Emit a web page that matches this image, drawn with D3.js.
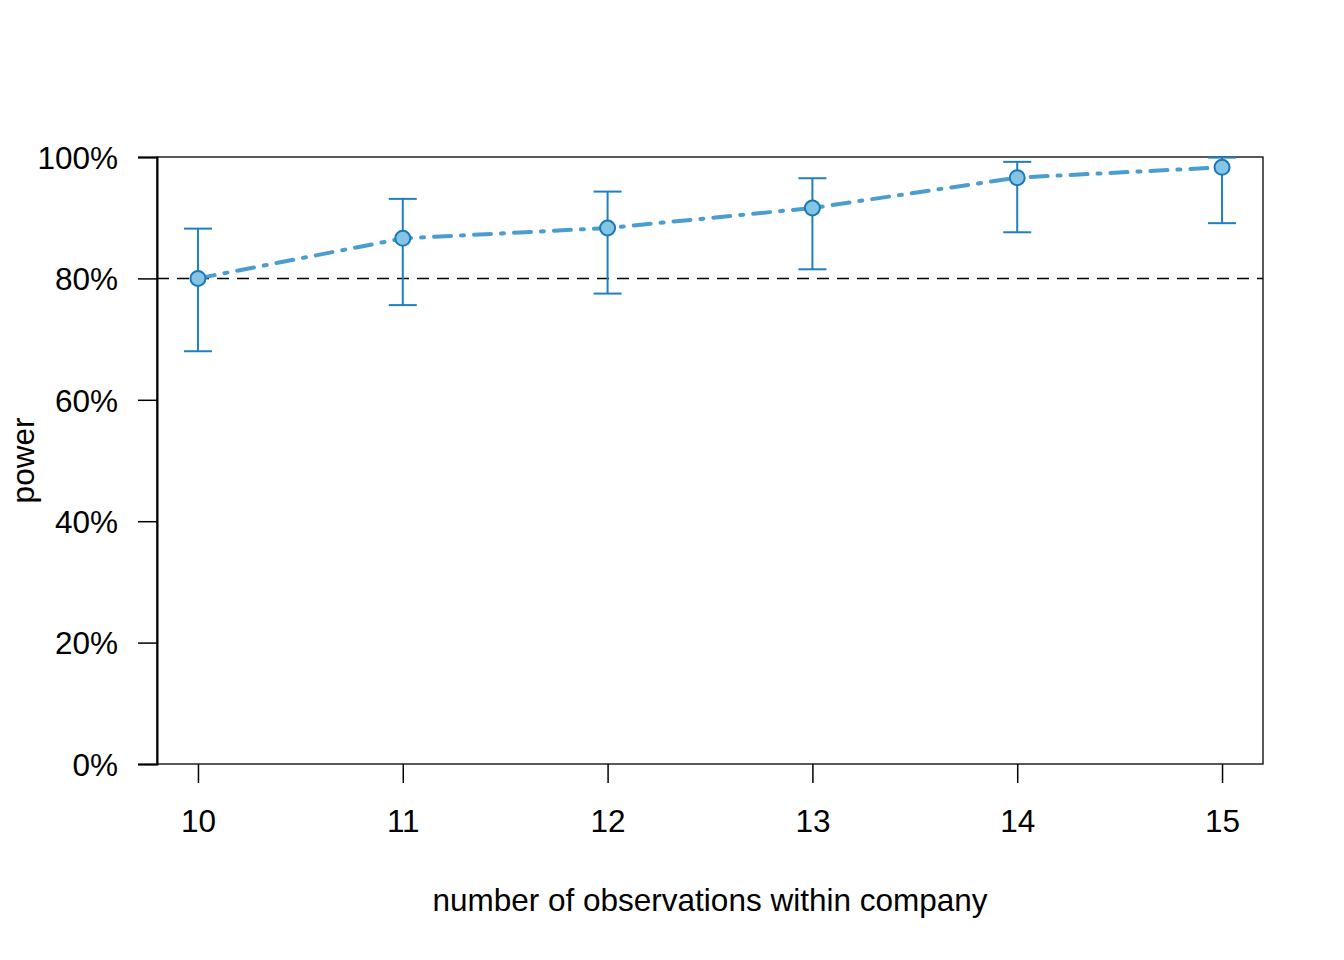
<!DOCTYPE html>
<html lang="en">
<head>
  <meta charset="UTF-8">
  <title>Power curve</title>
  <script src="https://d3js.org/d3.v7.min.js"></script>
  <style>
    body { margin: 0; background: #fff; }
    text { font-family: "Liberation Sans", Arial, sans-serif; fill: #000; }
  </style>
</head>
<body>
  <div id="chart"></div>

  <script>
    // data
    const nObs = [10, 11, 12, 13, 14, 15];
    const power = [0.80, 0.866, 0.883, 0.916, 0.966, 0.983];
    const lower = [0.680, 0.756, 0.775, 0.815, 0.876, 0.891];
    const upper = [0.882, 0.931, 0.943, 0.965, 0.992, 0.999];
    const yTicks = [0, 0.2, 0.4, 0.6, 0.8, 1.0];
    const target = 0.8;

    const width = 1344, height = 960;
    const margin = { top: 157, right: 81, bottom: 196, left: 157 };
    const innerW = width - margin.left - margin.right;
    const innerH = height - margin.top - margin.bottom;
    const fontSize = "31.5px";

    const x = d3.scaleLinear().domain([9.8, 15.2]).range([0, innerW]);
    const y = d3.scaleLinear().domain([0, 1]).range([innerH, 0]);

    const svg = d3.select("#chart")
      .append("svg")
      .attr("width", width)
      .attr("height", height);

    const g = svg.append("g")
      .attr("transform", "translate(" + margin.left + "," + margin.top + ")");

    const data = nObs.map((n, i) => ({ n: n, p: power[i], lo: lower[i], hi: upper[i] }));

    // box
    g.append("rect")
      .attr("width", innerW)
      .attr("height", innerH)
      .attr("fill", "none")
      .attr("stroke", "#000")
      .attr("stroke-width", 1.3);

    // axes
    const yAxis = g.append("g")
      .call(d3.axisLeft(y).tickValues(yTicks).tickFormat(d3.format(".0%")).tickSize(19).tickPadding(20));
    yAxis.select(".domain").attr("stroke-width", 2);

    const xAxis = g.append("g")
      .attr("transform", "translate(0," + innerH + ")")
      .call(d3.axisBottom(x).tickValues(nObs).tickFormat(d3.format("d")).tickSize(19).tickPadding(27));
    xAxis.select(".domain").remove();

    g.selectAll(".tick line").attr("stroke-width", 1.5);
    g.selectAll(".tick text")
      .style("font-size", fontSize)
      .style("font-family", "'Liberation Sans', Arial, sans-serif");
    yAxis.selectAll(".tick text").attr("dy", "0.36em");

    // 80% reference line
    g.append("line")
      .attr("x1", 0)
      .attr("x2", innerW)
      .attr("y1", y(target))
      .attr("y2", y(target))
      .attr("stroke", "#000")
      .attr("stroke-width", 1.5)
      .attr("stroke-dasharray", "12,8");

    // connecting line
    g.append("path")
      .datum(data)
      .attr("fill", "none")
      .attr("stroke", "#4a9dcd")
      .attr("stroke-width", 4)
      .attr("stroke-linecap", "round")
      .attr("stroke-dasharray", "17,10,3,10")
      .attr("d", d3.line().x(d => x(d.n)).y(d => y(d.p)));

    // error bars
    const eb = g.selectAll(".eb")
      .data(data)
      .enter().append("g")
      .attr("class", "eb")
      .attr("stroke", "#1f80c0")
      .attr("stroke-width", 2);

    eb.append("line")
      .attr("x1", d => x(d.n)).attr("x2", d => x(d.n))
      .attr("y1", d => y(d.lo)).attr("y2", d => y(d.hi));
    eb.append("line")
      .attr("x1", d => x(d.n) - 14).attr("x2", d => x(d.n) + 14)
      .attr("y1", d => y(d.lo)).attr("y2", d => y(d.lo));
    eb.append("line")
      .attr("x1", d => x(d.n) - 14).attr("x2", d => x(d.n) + 14)
      .attr("y1", d => y(d.hi)).attr("y2", d => y(d.hi));

    // points
    g.selectAll("circle")
      .data(data)
      .enter().append("circle")
      .attr("cx", d => x(d.n))
      .attr("cy", d => y(d.p))
      .attr("r", 7.5)
      .attr("fill", "#85c4e2")
      .attr("stroke", "#1a78b8")
      .attr("stroke-width", 2);

    // axis titles
    svg.append("text")
      .attr("x", margin.left + innerW / 2)
      .attr("y", 911)
      .attr("text-anchor", "middle")
      .style("font-size", fontSize)
      .text("number of observations within company");

    svg.append("text")
      .attr("transform", "translate(34," + (margin.top + innerH / 2) + ") rotate(-90)")
      .attr("text-anchor", "middle")
      .style("font-size", fontSize)
      .text("power");
  </script>
</body>
</html>
